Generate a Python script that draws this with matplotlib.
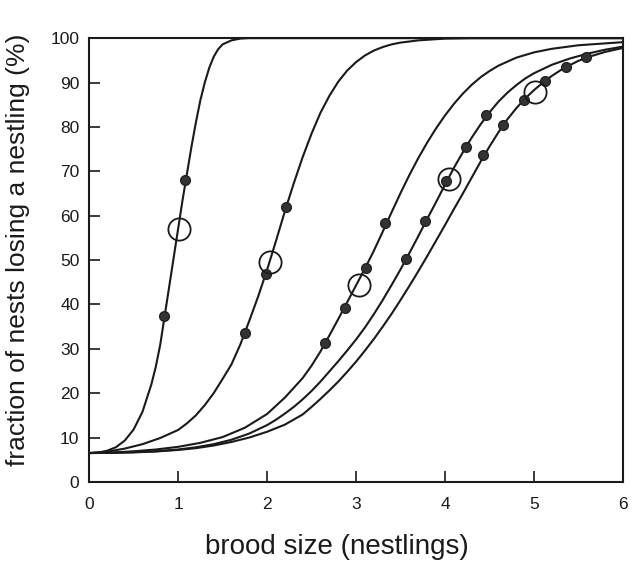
import matplotlib.pyplot as plt

plt.rcParams['font.family'] = ['Liberation Sans', 'DejaVu Sans']

# curves (brood size, % nests losing a nestling)
xa = [0, 0.1, 0.2, 0.3, 0.4, 0.5, 0.6, 0.7, 0.75, 0.8, 0.85, 0.9, 0.95, 1.0,
      1.05, 1.1, 1.15, 1.2, 1.25, 1.3, 1.35, 1.4, 1.45, 1.5, 1.6, 1.7, 1.8, 6.0]
ya = [6.5, 6.6, 7.0, 7.8, 9.3, 11.8, 15.8, 22.0, 26.0, 31.0, 37.5, 44.0, 50.5, 57.0,
      63.5, 69.5, 75.5, 81.0, 86.0, 90.0, 93.3, 95.8, 97.5, 98.6, 99.5, 99.9, 100, 100]

xb = [0, 0.2, 0.4, 0.6, 0.8, 1.0, 1.1, 1.2, 1.3, 1.4, 1.5, 1.6, 1.7, 1.8, 1.9, 2.0,
      2.1, 2.2, 2.3, 2.4, 2.5, 2.6, 2.7, 2.8, 2.9, 3.0, 3.1, 3.2, 3.3, 3.4, 3.5,
      3.7, 4.0, 4.3, 6.0]
yb = [6.5, 6.8, 7.5, 8.5, 9.9, 11.7, 13.2, 15.0, 17.3, 20.0, 23.2, 26.5, 31.0, 36.3,
      41.8, 47.8, 54.3, 61.0, 67.3, 73.2, 78.5, 83.2, 87.0, 90.2, 92.7, 94.6, 96.1,
      97.2, 98.0, 98.6, 99.0, 99.5, 99.9, 100, 100]

xc = [0, 0.25, 0.5, 0.75, 1.0, 1.25, 1.5, 1.75, 2.0, 2.2, 2.4, 2.5, 2.6, 2.7, 2.8,
      2.9, 3.0, 3.1, 3.2, 3.3, 3.4, 3.5, 3.6, 3.7, 3.8, 3.9, 4.0, 4.1, 4.2, 4.3,
      4.4, 4.5, 4.6, 4.8, 5.0, 5.2, 5.5, 6.0]
yc = [6.5, 6.6, 6.9, 7.3, 7.9, 8.8, 10.1, 12.2, 15.3, 19.0, 23.4, 26.2, 29.4, 33.0,
      36.7, 40.5, 44.3, 48.1, 52.1, 56.4, 60.8, 65.1, 69.2, 73.0, 76.5, 79.7, 82.6,
      85.2, 87.5, 89.5, 91.2, 92.6, 93.8, 95.6, 96.8, 97.6, 98.4, 99.1]

xd = [0, 0.25, 0.5, 0.75, 1.0, 1.2, 1.4, 1.6, 1.8, 2.0, 2.1, 2.2, 2.3, 2.4, 2.5,
      2.6, 2.7, 2.8, 2.9, 3.0, 3.1, 3.2, 3.3, 3.4, 3.5, 3.6, 3.7, 3.8, 3.9, 4.0,
      4.1, 4.2, 4.3, 4.4, 4.5, 4.6, 4.7, 4.8, 4.9, 5.0, 5.2, 5.4, 5.6, 5.8, 6.0]
yd = [6.5, 6.55, 6.7, 6.9, 7.3, 7.8, 8.5, 9.5, 10.9, 12.8, 14.0, 15.4, 16.9, 18.6,
      20.5, 22.6, 24.9, 27.2, 29.6, 32.1, 34.8, 37.8, 41.0, 44.4, 47.9, 51.6, 55.4,
      59.3, 63.1, 67.0, 70.8, 74.3, 77.6, 80.6, 83.3, 85.7, 87.7, 89.4, 90.9, 92.1,
      94.0, 95.4, 96.5, 97.4, 98.1]

xe = [0, 0.25, 0.5, 0.75, 1.0, 1.2, 1.4, 1.6, 1.8, 2.0, 2.2, 2.4, 2.5, 2.6, 2.7,
      2.8, 2.9, 3.0, 3.1, 3.2, 3.3, 3.4, 3.5, 3.6, 3.7, 3.8, 3.9, 4.0, 4.1, 4.2,
      4.3, 4.4, 4.5, 4.6, 4.7, 4.8, 4.9, 5.0, 5.1, 5.2, 5.3, 5.4, 5.5, 5.6, 5.8, 6.0]
ye = [6.5, 6.55, 6.65, 6.85, 7.2, 7.6, 8.2, 9.0, 10.0, 11.3, 12.9, 15.2, 16.9, 18.7,
      20.6, 22.6, 24.8, 27.1, 29.6, 32.2, 35.0, 37.9, 41.0, 44.2, 47.5, 50.9, 54.4,
      57.9, 61.5, 65.0, 68.6, 72.2, 75.6, 78.8, 81.7, 84.2, 86.4, 88.3, 90.0, 91.5,
      92.8, 93.9, 94.9, 95.7, 96.9, 97.8]

# filled points
dots_x = [0.846, 1.08, 1.75, 1.985, 2.21, 2.65, 2.876, 3.11, 3.33,
          3.56, 3.78, 4.01, 4.24, 4.46,
          4.43, 4.655, 4.89, 5.12, 5.36, 5.58]
dots_y = [37.4, 68.0, 33.5, 46.8, 61.9, 31.2, 39.1, 48.3, 58.4,
          50.2, 58.9, 67.8, 75.5, 82.6,
          73.6, 80.4, 86.0, 90.4, 93.5, 95.8]

# open circles
open_x = [1.01, 2.03, 3.03, 4.04, 5.01]
open_y = [57.1, 49.6, 44.4, 68.2, 87.9]

fig = plt.figure(figsize=(6.41, 5.61), dpi=100)
ax = fig.add_axes([0.139, 0.141, 0.833, 0.791])

for xs, ys in [(xa, ya), (xb, yb), (xc, yc), (xd, yd), (xe, ye)]:
    ax.plot(xs, ys, color='#1a1a1a', lw=1.5, solid_joinstyle='round')

ax.plot(dots_x, dots_y, 'o', ms=7, color='#333333', mec='#222222', zorder=3)
ax.plot(open_x, open_y, 'o', ms=16, mfc='none', mec='#1a1a1a', mew=1.3, zorder=3)

ax.set_xlim(0, 6)
ax.set_ylim(0, 100)
ax.set_xticks(range(0, 7))
ax.set_yticks(range(0, 101, 10))
ax.tick_params(direction='in', length=8, width=1.2, labelsize=12.5,
               colors='#1a1a1a')
ax.tick_params(axis='x', pad=11)
ax.tick_params(axis='y', pad=7)
for s in ax.spines.values():
    s.set_linewidth(1.5)
    s.set_color('#1a1a1a')

ax.set_xlabel('brood size (nestlings)', fontsize=20, color='#1a1a1a')
ax.xaxis.set_label_coords(0.464, -0.118)
ax.set_ylabel('fraction of nests losing a nestling (%)', fontsize=19,
              color='#1a1a1a')
ax.yaxis.set_label_coords(-0.11, 0.523)

fig.savefig('out.png', dpi=100)
